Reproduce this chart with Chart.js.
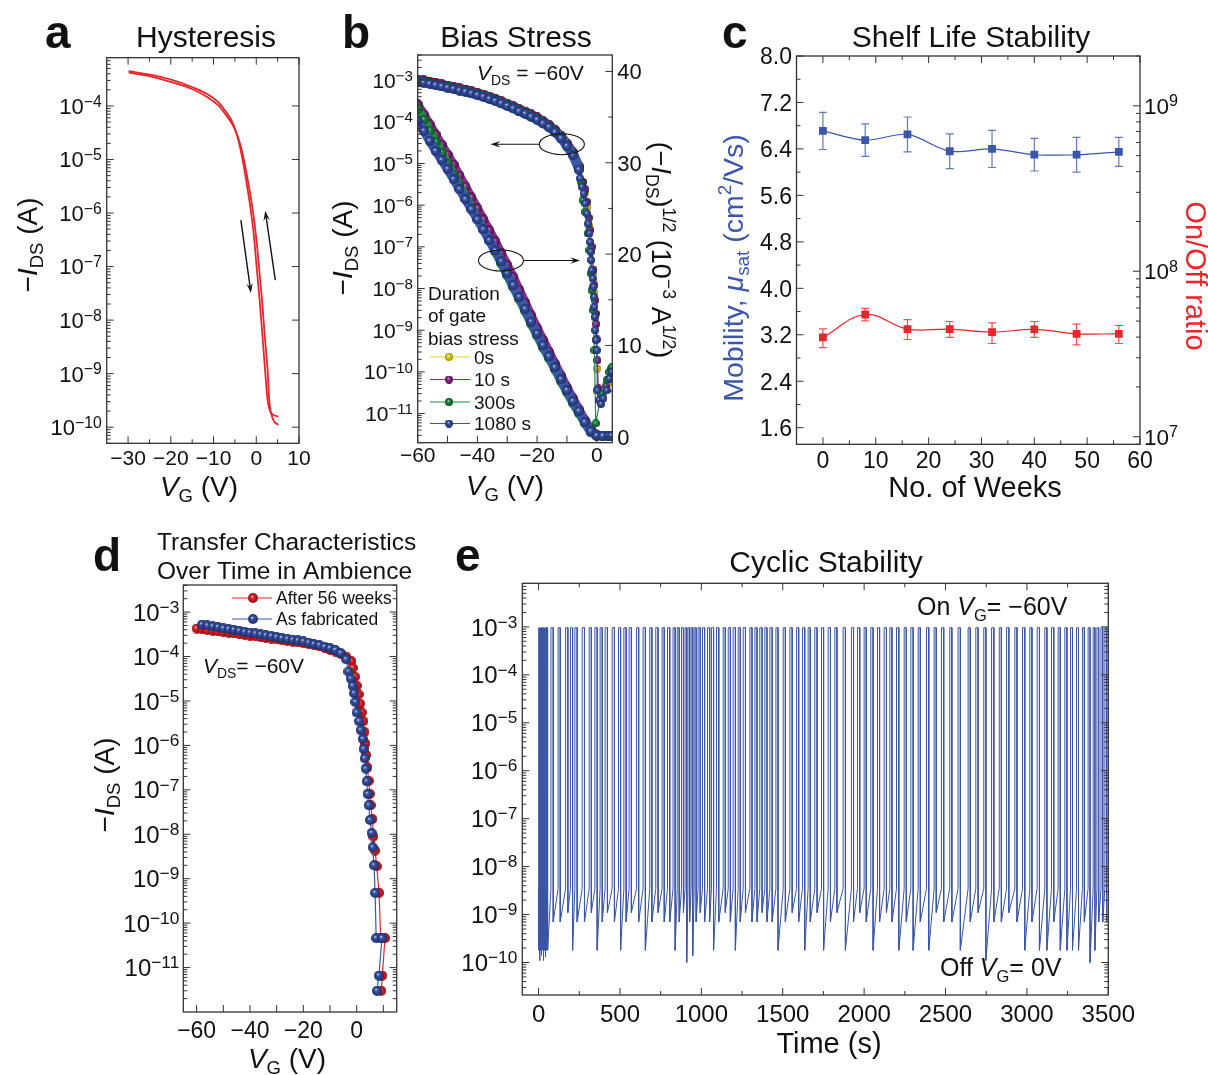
<!DOCTYPE html>
<html lang="en">
<head>
<meta charset="UTF-8">
<title>Transistor stability figure</title>
<script src="https://cdn.jsdelivr.net/npm/chart.js"></script>
<style>
  * { margin: 0; padding: 0; box-sizing: border-box; }
  body { background: #fff; }
  #fig { position: relative; width: 1208px; height: 1075px; overflow: hidden; }
  #fig canvas { position: absolute; left: 0; top: 0; }
</style>
</head>
<body>
<div id="fig">
  <canvas id="chartA" width="1208" height="1075"></canvas>
  <canvas id="chartB" width="1208" height="1075"></canvas>
  <canvas id="chartC" width="1208" height="1075"></canvas>
  <canvas id="chartD" width="1208" height="1075"></canvas>
  <canvas id="chartE" width="1208" height="1075"></canvas>
</div>
<script>
// ---------- a: hysteresis (two sweeps) ----------
const hystVgFwd = [-29.85, -24.6, -19.9, -14.9, -11.4, -9.0, -7.1, -5.5, -4.2, -3.2, -2.26, -1.4, -0.62, 0.08, 0.78, 1.4, 2.0, 2.65, 3.6, 5.15];
const hystIdFwd = [4.47e-4, 3.8e-4, 3.1e-4, 2.24e-4, 1.66e-4, 1.2e-4, 7.8e-5, 4.8e-5, 2.3e-5, 1.0e-5, 3.6e-6, 1.3e-6, 4.2e-7, 1.0e-7, 2.4e-8, 5.7e-9, 1.35e-9, 3.2e-10, 1.8e-10, 1.58e-10];
const hystVgRev = [-29.85, -24.6, -19.9, -14.9, -11.4, -9.0, -7.1, -5.1, -3.7, -2.65, -1.64, -0.78, 0.0, 0.7, 1.4, 2.0, 2.65, 3.04, 3.8, 5.15];
const hystIdRev = [4.2e-4, 3.55e-4, 2.8e-4, 2.05e-4, 1.45e-4, 1.05e-4, 6.8e-5, 3.8e-5, 1.87e-5, 7.9e-6, 2.9e-6, 1.07e-6, 3.4e-7, 8.7e-8, 2.1e-8, 4.9e-9, 1.17e-9, 3.2e-10, 1.48e-10, 1.1e-10];
// sweep direction arrows: [vgFrom, idFrom, vgTo, idTo]
const hystArrows = [[-3.6, 7.4e-7, -1.25, 3.2e-8], [4.45, 5.6e-8, 2.1, 1.1e-6]];

// ---------- b: bias stress ----------
const biasBandVg = [-60, -58, -56, -54, -52, -50, -48, -46, -44, -42, -40, -38, -36, -34, -32, -30, -28, -26, -24, -22, -20, -18, -16, -14, -12, -10, -8, -6];
const logBand0 = [1.0e-3, 9.6e-4, 9.0e-4, 8.4e-4, 7.8e-4, 7.3e-4, 6.8e-4, 6.2e-4, 5.8e-4, 5.3e-4, 4.8e-4, 4.4e-4, 3.9e-4, 3.5e-4, 3.05e-4, 2.65e-4, 2.3e-4, 1.97e-4, 1.72e-4, 1.47e-4, 1.24e-4, 1.0e-4, 8.2e-5, 6.2e-5, 4.5e-5, 2.9e-5, 1.8e-5, 8.3e-6];
const logBand10 = [1.02e-3, 9.8e-4, 9.1e-4, 8.5e-4, 7.9e-4, 7.4e-4, 6.9e-4, 6.3e-4, 5.9e-4, 5.4e-4, 4.9e-4, 4.5e-4, 4.0e-4, 3.55e-4, 3.1e-4, 2.7e-4, 2.35e-4, 2.0e-4, 1.75e-4, 1.5e-4, 1.27e-4, 1.03e-4, 8.4e-5, 6.4e-5, 4.6e-5, 3.0e-5, 1.85e-5, 8.6e-6];
const logBand300 = [9.5e-4, 9.1e-4, 8.5e-4, 7.9e-4, 7.4e-4, 6.9e-4, 6.4e-4, 5.9e-4, 5.5e-4, 5.0e-4, 4.6e-4, 4.2e-4, 3.7e-4, 3.3e-4, 2.9e-4, 2.5e-4, 2.2e-4, 1.86e-4, 1.62e-4, 1.38e-4, 1.17e-4, 9.5e-5, 7.7e-5, 5.9e-5, 4.2e-5, 2.75e-5, 1.67e-5, 7.6e-6];
const logBand1080 = [9.12e-4, 8.71e-4, 8.13e-4, 7.59e-4, 7.08e-4, 6.61e-4, 6.17e-4, 5.62e-4, 5.25e-4, 4.79e-4, 4.37e-4, 3.98e-4, 3.55e-4, 3.16e-4, 2.75e-4, 2.4e-4, 2.09e-4, 1.78e-4, 1.55e-4, 1.32e-4, 1.12e-4, 9.1e-5, 7.4e-5, 5.6e-5, 4.0e-5, 2.6e-5, 1.58e-5, 7.1e-6];
const steepVg0 = [-4.8, -4.0, -3.2, -2.5, -1.9, -1.3, -0.9, -0.5, -0.2, 0.1, 0.5, 2.0, 4.0, 5.0];
const steepI0 = [3.4e-6, 2.0e-6, 9.0e-7, 3.2e-7, 9.0e-8, 2.4e-8, 8.0e-9, 2.0e-9, 6.0e-10, 1.2e-10, 3.5e-11, 3.0e-11, 5.5e-11, 8.5e-11];
const steepVg10 = [-4.6, -3.9, -3.3, -2.7, -2.2, -1.7, -1.1, -0.8, -0.55, -0.35, -0.2, 0.0, 0.2, 0.5, 1.5, 3.0, 4.5, 5.0];
const steepI10 = [3.6e-6, 2.4e-6, 1.2e-6, 5.0e-7, 2.5e-7, 1.0e-7, 2.8e-8, 1.2e-8, 5.2e-9, 2.5e-9, 1.4e-9, 6.0e-10, 1.9e-10, 4.0e-11, 3.0e-11, 4.5e-11, 7.0e-11, 9.0e-11];
const steepVg300 = [-5.3, -4.67, -3.9, -3.0, -2.45, -2.0, -1.7, -1.1, -0.8, -0.35, 1.5, 3.3, 4.2, 4.8, 5.1];
const steepI300 = [3.6e-6, 1.3e-6, 6.9e-7, 2.1e-7, 8.3e-8, 2.3e-8, 9.1e-9, 3.0e-9, 3.3e-10, 5.8e-12, 3.0e-11, 6.3e-11, 1.0e-10, 1.2e-10, 1.3e-10];
const steepVg1080 = [-5.6, -5.0, -4.4, -3.9, -3.3, -2.8, -2.45, -2.2, -2.0, -1.9, -1.7, -1.35, -1.1, -0.9, -0.8, -0.6, -0.55, -0.25, 0.0, 0.2, 0.8, 1.4, 2.2, 3.3, 4.2, 5.0];
const steepI1080 = [4.4e-6, 2.75e-6, 1.9e-6, 1.1e-6, 6.3e-7, 3.6e-7, 2.1e-7, 1.3e-7, 7.6e-8, 4.8e-8, 2.75e-8, 1.74e-8, 1.1e-8, 6.3e-9, 3.6e-9, 2.1e-9, 1.0e-9, 5.8e-10, 3.3e-10, 3.6e-11, 2.1e-11, 1.7e-11, 2.3e-11, 3.6e-11, 6.9e-11, 1.0e-10];
// (-I_DS)^1/2 in 10^-3 A^1/2, right axis
const sqrtVg = [-60, -58, -56, -54, -52, -50, -48, -46, -44, -42, -40, -38, -36, -34, -32, -30, -28, -26, -24, -22, -20, -18, -16, -14, -12, -10, -8, -6, -4, -2, 0, 2, 4, 5];
const sqrt0 = [36.2, 35.1, 34.0, 32.9, 31.8, 30.7, 29.6, 28.4, 27.2, 26.0, 24.8, 23.6, 22.4, 21.2, 19.9, 18.6, 17.3, 15.9, 14.5, 13.1, 11.7, 10.4, 9.1, 7.8, 6.5, 5.2, 4.0, 2.9, 1.7, 0.7, 0.2, 0.1, 0.1, 0.1];
const sqrt10 = [36.4, 35.3, 34.2, 33.1, 32.0, 30.9, 29.8, 28.6, 27.4, 26.2, 25.0, 23.8, 22.6, 21.4, 20.1, 18.8, 17.5, 16.1, 14.7, 13.3, 11.9, 10.6, 9.3, 8.0, 6.7, 5.4, 4.2, 3.0, 1.8, 0.8, 0.2, 0.1, 0.1, 0.1];
const sqrt300 = [35.9, 34.7, 33.5, 32.3, 31.1, 29.9, 28.7, 27.5, 26.3, 25.1, 23.9, 22.7, 21.5, 20.3, 19.0, 17.7, 16.4, 15.1, 13.8, 12.4, 11.1, 9.8, 8.6, 7.4, 6.1, 4.9, 3.7, 2.6, 1.5, 0.5, 0.1, 0.1, 0.1, 0.1];
const sqrt1080 = [34.6, 33.5, 32.4, 31.3, 30.3, 29.3, 28.2, 27.1, 26.0, 24.9, 23.8, 22.7, 21.5, 20.4, 19.2, 17.9, 16.6, 15.3, 14.0, 12.6, 11.3, 10.0, 8.8, 7.6, 6.3, 5.1, 3.9, 2.8, 1.6, 0.6, 0.1, 0.1, 0.1, 0.1];
const biasNames = ['0s', '10 s', '300s', '1080 s'];
// curve markers: [vg, value, axis]; arrows: [vgFrom, vgTo, value, axis]
const biasEllipses = [[-11.7, 2.9e-5, 'y'], [-32.1, 19.3, 'y2']];
const biasArrows = [[-19.2, -35.6, 2.9e-5, 'y'], [-24.5, -5.6, 19.3, 'y2']];

// ---------- c: shelf life ----------
const weeks = [0, 8, 16, 24, 32, 40, 48, 56];
const mobility = [6.71, 6.55, 6.65, 6.36, 6.40, 6.30, 6.30, 6.35];
const mobilityErr = [0.32, 0.28, 0.30, 0.30, 0.32, 0.28, 0.30, 0.25];
const onOff = [3.98e7, 5.48e7, 4.47e7, 4.47e7, 4.29e7, 4.45e7, 4.19e7, 4.19e7];
const onOffHi = [4.49e7, 5.96e7, 5.1e7, 4.97e7, 4.88e7, 4.97e7, 4.79e7, 4.70e7];
const onOffLo = [3.46e7, 5.01e7, 3.87e7, 3.98e7, 3.66e7, 3.98e7, 3.59e7, 3.66e7];

// ---------- d: transfer curves over time ----------
const freshVg = [-58, -56, -54, -52, -50, -48, -46, -44, -42, -40, -38, -36, -34, -32, -30, -28, -26, -24, -22, -20, -18, -16, -14, -12, -10, -8, -6, -4,
  -3.1, -2.25, -1.5, -1.0, -0.5, 0, 0.9, 1.5, 2.25, 2.6, 3.0, 3.4, 3.75, 4.1, 4.5, 5.0, 5.6, 6.0, 6.5, 6.9, 7.3, 9.5, 8.3, 7.6];
const freshId = [5.25e-4, 5.0e-4, 4.8e-4, 4.6e-4, 4.35e-4, 4.15e-4, 4.0e-4, 3.8e-4, 3.6e-4, 3.45e-4, 3.3e-4, 3.15e-4, 3.0e-4, 2.9e-4, 2.75e-4, 2.6e-4, 2.5e-4, 2.4e-4, 2.3e-4, 2.2e-4, 2.05e-4, 1.9e-4, 1.8e-4, 1.65e-4, 1.55e-4, 1.4e-4, 1.2e-4, 8.7e-5,
  4.6e-5, 3.2e-5, 2.2e-5, 1.5e-5, 9.5e-6, 5.5e-6, 3.5e-6, 2.2e-6, 1.4e-6, 8.3e-7, 5.1e-7, 3.0e-7, 1.55e-7, 8.1e-8, 4.5e-8, 2.1e-8, 1.07e-8, 5.1e-9, 2.0e-9, 4.8e-10, 4.6e-11, 4.6e-11, 6.6e-12, 3.0e-12];
const agedVg = [-60, -58, -56, -54, -52, -50, -48, -46, -44, -42, -40, -38, -36, -34, -32, -30, -28, -26, -24, -22, -20, -18, -16, -14, -12, -10, -8, -6, -4, -2,
  -1.5, -0.6, 0, 0.75, 1.25, 1.9, 2.5, 2.9, 3.25, 3.5, 4.0, 4.5, 4.9, 5.25, 5.9, 6.25, 6.9, 7.5, 8.4, 9.0, 10.6, 9.6, 9.2];
const agedId = [4.27e-4, 4.11e-4, 3.96e-4, 3.82e-4, 3.68e-4, 3.55e-4, 3.42e-4, 3.30e-4, 3.18e-4, 3.06e-4, 2.95e-4, 2.84e-4, 2.73e-4, 2.62e-4, 2.52e-4, 2.43e-4, 2.33e-4, 2.24e-4, 2.16e-4, 2.07e-4, 2.0e-4, 1.9e-4, 1.8e-4, 1.7e-4, 1.58e-4, 1.41e-4, 1.29e-4, 1.15e-4, 1.0e-4, 7.9e-5,
  5.5e-5, 3.5e-5, 2.2e-5, 1.4e-5, 8.7e-6, 5.5e-6, 3.5e-6, 2.0e-6, 1.1e-6, 6.1e-7, 3.2e-7, 1.6e-7, 8.1e-8, 4.5e-8, 2.2e-8, 8.9e-9, 4.3e-9, 1.9e-9, 4.8e-10, 4.6e-11, 4.6e-11, 6.6e-12, 3.0e-12];

// ---------- e: cyclic switching ----------
const onLevel = 9.6e-4;
const offShoulder = 3.5e-9;
const pulseOn = [0, 5, 10, 15, 20, 25, 30, 35, 40, 45, 50, 55,
  76, 120, 166, 196, 223, 268, 311, 346, 378, 409, 452, 491, 524, 556, 602, 642, 683, 720, 759, 792, 826,
  852, 878, 900, 918, 937, 956, 980, 1007, 1038, 1062, 1093, 1134, 1165, 1195, 1226, 1257, 1298, 1329, 1359, 1390, 1421, 1458, 1503, 1544, 1585, 1621, 1656, 1697,
  1738, 1779, 1820, 1871, 1922, 1959, 2000, 2041, 2082, 2123, 2158, 2199, 2246, 2287, 2332, 2383, 2430, 2475, 2526, 2577,
  2639, 2686, 2735, 2783, 2830, 2875, 2926, 2973, 3018, 3063, 3110, 3151, 3192, 3233, 3268, 3305, 3341, 3376, 3407, 3430, 3455, 3479];
const pulseOff = [2.5, 7.5, 12.5, 17.5, 22.5, 27.5, 32.5, 37.5, 42.5, 47.5, 52.5, 57.5,
  90, 133, 180, 209, 237, 282, 324, 360, 391, 423, 466, 504, 538, 570, 615, 656, 696, 734, 772, 806, 839,
  864, 890, 910, 928, 947, 968, 993, 1020, 1051, 1075, 1107, 1147, 1178, 1209, 1239, 1271, 1311, 1342, 1373, 1403, 1435, 1471, 1516, 1558, 1598, 1635, 1669, 1711,
  1751, 1793, 1833, 1885, 1935, 1973, 2013, 2055, 2095, 2137, 2171, 2213, 2259, 2301, 2345, 2397, 2443, 2489, 2539, 2591,
  2652, 2700, 2748, 2797, 2843, 2889, 2939, 2987, 3031, 3077, 3123, 3165, 3205, 3246, 3280, 3317, 3353, 3388, 3418, 3441, 3466, 3490];
const offMin = [1.8e-10, 1.1e-10, 1.8e-10, 1.4e-10, 1.8e-10, 1.1e-10, 1.8e-10, 1.8e-10, 1.3e-10, 1.8e-10, 1.8e-10, 1.8e-10,
  7e-10, 7e-10, 1.1e-9, 1.8e-10, 7e-10, 7e-10, 1.1e-9, 1.8e-10, 7e-10, 1.1e-9, 7e-10, 1.8e-10, 7e-10, 1.1e-9, 7e-10, 1.8e-10, 7e-10, 1.1e-9, 7e-10, 7e-10, 1.8e-10,
  7e-10, 1.1e-9, 1.0e-10, 7e-10, 1.4e-10, 7e-10, 1.1e-9, 7e-10, 7e-10, 1.8e-10, 7e-10, 1.1e-9, 7e-10, 1.8e-10, 7e-10, 1.1e-9, 7e-10, 7e-10, 1.1e-9, 7e-10, 7e-10, 1.8e-10, 7e-10, 1.1e-9, 7e-10, 1.8e-10, 7e-10, 1.1e-9,
  1.8e-10, 7e-10, 1.1e-9, 1.8e-10, 7e-10, 1.1e-9, 7e-10, 1.8e-10, 7e-10, 1.1e-9, 7e-10, 1.8e-10, 7e-10, 1.8e-10, 7e-10, 1.8e-10, 1.1e-9, 7e-10, 7e-10, 1.8e-10,
  7e-10, 1.1e-9, 1.1e-10, 7e-10, 7e-10, 1.1e-9, 7e-10, 1.8e-10, 7e-10, 1.8e-10, 1.8e-10, 7e-10, 1.8e-10, 1.8e-10, 1.8e-10, 1.8e-10, 7e-10, 1.0e-10, 1.8e-10, 7e-10, 7e-10, 7e-10];

// ---------- helpers ----------
const FF = "'Liberation Sans', Arial, Helvetica, sans-serif";
const INK = '#333';
const OPP = { bottom: 'top', top: 'bottom', left: 'right', right: 'left' };
const BLUE = '#3b57a8', RED = '#e8262b';

const pts = (xs, ys) => xs.map((x, i) => ({ x, y: ys[i] }));
const decades = (lo, hi) => { const out = []; for (let e = lo; e <= hi; e++) out.push(Math.pow(10, e)); return out; };
const logMinors = (lo, hi) => { const out = []; for (let e = lo; e <= hi; e++) for (let k = 2; k <= 9; k++) out.push(k * Math.pow(10, e)); return out; };
const steps = (a, b, s) => { const out = []; for (let v = a; v <= b + 1e-9; v += s) out.push(+v.toFixed(3)); return out; };
const fmtPow = v => '10^{' + String(Math.round(Math.log10(v))).replace('-', '−') + '}';
const fmtInt = v => String(v).replace('-', '−');
const fmtF1 = v => v.toFixed(1);

// tiny markup: *italic*, _{sub}, ^{sup}
function parse(str) {
  const out = []; let buf = '', it = false, i = 0;
  const push = () => { if (buf) out.push({ t: buf, i: it }); buf = ''; };
  while (i < str.length) {
    const c = str[i];
    if (c === '*') { push(); it = !it; i++; }
    else if ((c === '_' || c === '^') && str[i + 1] === '{') {
      push();
      const j = str.indexOf('}', i);
      out.push({ t: str.slice(i + 2, j), i: false, s: c === '_' ? 'sub' : 'sup' });
      i = j + 1;
    } else { buf += c; i++; }
  }
  push();
  return out;
}

function drawRich(ctx, str, x, y, o) {
  const S = o.size;
  const supK = o.supK || 0.66, supR = o.supR || 0.42;
  ctx.save();
  ctx.translate(x, y);
  if (o.rot) ctx.rotate(o.rot);
  ctx.fillStyle = o.color || '#111';
  ctx.textAlign = 'left';
  ctx.textBaseline = 'alphabetic';
  const segs = parse(str).map(p => {
    const sz = p.s === 'sup' ? S * supK : p.s === 'sub' ? S * 0.66 : S;
    const font = (p.i ? 'italic ' : '') + (o.bold ? 'bold ' : '') + sz.toFixed(1) + 'px ' + FF;
    ctx.font = font;
    const dy = p.s === 'sup' ? -S * supR : p.s === 'sub' ? S * 0.22 : 0;
    return { t: p.t, font, dy, w: ctx.measureText(p.t).width };
  });
  const total = segs.reduce((s, g) => s + g.w, 0);
  let cx = o.align === 'center' ? -total / 2 : o.align === 'right' ? -total : 0;
  segs.forEach(g => { ctx.font = g.font; ctx.fillText(g.t, cx, g.dy); cx += g.w; });
  ctx.restore();
}

function drawAxis(chart, ax) {
  const ctx = chart.ctx, a = chart.chartArea, sc = chart.scales[ax.id];
  const tick = (v, len, side) => {
    const p = sc.getPixelForValue(v);
    if (side === 'bottom' || side === 'top') {
      if (p < a.left - 0.5 || p > a.right + 0.5) return;
      const y0 = side === 'bottom' ? a.bottom : a.top;
      ctx.moveTo(p, y0); ctx.lineTo(p, y0 + (side === 'bottom' ? -len : len));
    } else {
      if (p < a.top - 0.5 || p > a.bottom + 0.5) return;
      const x0 = side === 'left' ? a.left : a.right;
      ctx.moveTo(x0, p); ctx.lineTo(x0 + (side === 'left' ? len : -len), p);
    }
  };
  ctx.save();
  ctx.strokeStyle = INK; ctx.lineWidth = 1;
  ctx.beginPath();
  ax.major.forEach(v => tick(v, 7, ax.side));
  (ax.minor || []).forEach(v => tick(v, 4, ax.side));
  if (ax.mirror) {
    ax.major.forEach(v => tick(v, 7, OPP[ax.side]));
    if (ax.mirrorMinor) (ax.minor || []).forEach(v => tick(v, 4, OPP[ax.side]));
  }
  ctx.stroke();
  const S = ax.size;
  const o = { size: S, supK: 0.72, supR: 0.33 };
  (ax.labels || []).forEach(v => {
    const p = sc.getPixelForValue(v), txt = ax.fmt(v);
    if (ax.side === 'bottom') drawRich(ctx, txt, p, ax.base, Object.assign({ align: 'center' }, o));
    else if (ax.side === 'left') drawRich(ctx, txt, a.left - ax.gap, p + S * 0.36, Object.assign({ align: 'right' }, o));
    else drawRich(ctx, txt, a.right + ax.gap, p + S * 0.36, Object.assign({ align: 'left' }, o));
  });
  ctx.restore();
}

function arrow(ctx, x1, y1, x2, y2) {
  const ang = Math.atan2(y2 - y1, x2 - x1), c = Math.cos(ang), s = Math.sin(ang), L = 10, W = 3.2;
  ctx.beginPath(); ctx.moveTo(x1, y1); ctx.lineTo(x2 - 0.6 * L * c, y2 - 0.6 * L * s); ctx.stroke();
  ctx.beginPath();
  ctx.moveTo(x2, y2);
  ctx.lineTo(x2 - L * c + W * s, y2 - L * s - W * c);
  ctx.lineTo(x2 - 0.6 * L * c, y2 - 0.6 * L * s);
  ctx.lineTo(x2 - L * c - W * s, y2 - L * s + W * c);
  ctx.closePath(); ctx.fill();
}

function ball(color, dark, d) {
  const c = document.createElement('canvas');
  c.width = c.height = d;
  const g = c.getContext('2d'), r = d / 2;
  const grad = g.createRadialGradient(r * 0.8, r * 0.7, 0, r, r, r);
  grad.addColorStop(0, '#f2f2ff');
  grad.addColorStop(0.3, color);
  grad.addColorStop(1, dark);
  g.fillStyle = grad;
  g.beginPath(); g.arc(r, r, r, 0, 2 * Math.PI); g.fill();
  return c;
}

function deco(cfg) {
  return {
    id: 'deco',
    beforeDatasetsDraw(chart) { if (cfg.under) cfg.under(chart); },
    afterDatasetsDraw(chart) {
      const ctx = chart.ctx, a = chart.chartArea;
      cfg.axes.forEach(ax => drawAxis(chart, ax));
      ctx.save();
      ctx.strokeStyle = INK; ctx.lineWidth = 1.3;
      ctx.strokeRect(a.left, a.top, a.right - a.left, a.bottom - a.top);
      ctx.restore();
      if (cfg.over) { ctx.save(); cfg.over(chart); ctx.restore(); }
      cfg.texts.forEach(t => drawRich(ctx, t.s, t.x, t.y, t));
    }
  };
}

const lin = (min, max) => ({ type: 'linear', min, max, display: false, bounds: 'data' });
const logS = (min, max) => ({ type: 'logarithmic', min, max, display: false, bounds: 'data' });

function makeChart(id, pad, scales, datasets, cfg) {
  return new Chart(document.getElementById(id), {
    type: 'line',
    data: { datasets },
    options: {
      responsive: false, animation: false, devicePixelRatio: 1, events: [],
      layout: { padding: pad },
      plugins: { legend: { display: false }, tooltip: { enabled: false } },
      scales
    },
    plugins: [deco(cfg)]
  });
}

// ---------- chart a ----------
makeChart('chartA', { left: 106.7, top: 57.7, right: 909, bottom: 631.7 },
  { x: lin(-35, 10), y: logS(5.0e-11, 7.97e-4) },
  [
    { data: pts(hystVgFwd, hystIdFwd), borderColor: RED, borderWidth: 1.8, pointRadius: 0, cubicInterpolationMode: 'monotone' },
    { data: pts(hystVgRev, hystIdRev), borderColor: RED, borderWidth: 1.8, pointRadius: 0, cubicInterpolationMode: 'monotone' }
  ],
  {
    axes: [
      { id: 'x', side: 'bottom', mirror: true, mirrorMinor: true, major: [-30, -20, -10, 0, 10], minor: [-25, -15, -5, 5], labels: [-30, -20, -10, 0, 10], fmt: fmtInt, size: 21, base: 465 },
      { id: 'y', side: 'left', mirror: true, major: decades(-10, -4), minor: logMinors(-11, -4), labels: decades(-10, -4), fmt: fmtPow, size: 22, gap: 5 }
    ],
    over(chart) {
      const ctx = chart.ctx, xs = chart.scales.x, ys = chart.scales.y;
      ctx.strokeStyle = '#111'; ctx.fillStyle = '#111'; ctx.lineWidth = 1.4;
      hystArrows.forEach(r => arrow(ctx, xs.getPixelForValue(r[0]), ys.getPixelForValue(r[1]), xs.getPixelForValue(r[2]), ys.getPixelForValue(r[3])));
    },
    texts: [
      { s: 'a', x: 45, y: 48, size: 46, bold: true },
      { s: 'Hysteresis', x: 206, y: 47, size: 30, align: 'center' },
      { s: '−*I*_{DS} (A)', x: 37, y: 245, size: 28, align: 'center', rot: -Math.PI / 2 },
      { s: '*V*_{G} (V)', x: 199, y: 496, size: 28, align: 'center' }
    ]
  });

// ---------- chart b ----------
const biasColors = [['#e3d31e', '#9c8f00'], ['#8e2c8e', '#4c0f4c'], ['#1f8f3f', '#0b4d1e'], [BLUE, '#1b2d66']];
const biasTable = [
  [logBand0, steepVg0, steepI0, sqrt0],
  [logBand10, steepVg10, steepI10, sqrt10],
  [logBand300, steepVg300, steepI300, sqrt300],
  [logBand1080, steepVg1080, steepI1080, sqrt1080]
];
const biasBalls = biasColors.map(c => ball(c[0], c[1], 8));
const biasBandBalls = biasColors.map(c => ball(c[0], c[1], 10));
const biasDatasets = [];
[3, 2, 1, 0].forEach(k => {
  const [band, sVg, sI, sq] = biasTable[k];
  const last = biasBandVg.length - 1;
  const col = biasColors[k][0];
  // dense band part of the log curve
  biasDatasets.push({
    data: pts(biasBandVg, band), yAxisID: 'y',
    borderColor: col, borderWidth: 9, borderJoinStyle: 'round', borderCapStyle: 'round', tension: 0,
    pointStyle: biasBandBalls[k], pointRadius: 5
  });
  // steep part of the log curve, joined to the band's last point
  biasDatasets.push({
    data: pts([biasBandVg[last]].concat(sVg), [band[last]].concat(sI)), yAxisID: 'y',
    borderColor: col, borderWidth: 1.2, tension: 0,
    pointStyle: biasBalls[k], pointRadius: 4
  });
  // square-root curve on the right axis
  biasDatasets.push({
    data: pts(sqrtVg, sq), yAxisID: 'y2',
    borderColor: col, borderWidth: 9, borderJoinStyle: 'round', borderCapStyle: 'round', tension: 0,
    pointStyle: biasBandBalls[k], pointRadius: 5
  });
});
makeChart('chartB', { left: 417.7, top: 55, right: 595.7, bottom: 632.3 },
  { x: lin(-60, 5.2), y: logS(2.0e-12, 4.0e-3), y2: lin(-0.65, 41.8) },
  biasDatasets,
  {
    axes: [
      { id: 'x', side: 'bottom', major: steps(-60, 0, 10), labels: [-60, -40, -20, 0], fmt: fmtInt, size: 21, base: 462 },
      { id: 'y', side: 'left', major: decades(-11, -3), minor: logMinors(-12, -3), labels: decades(-11, -3), fmt: fmtPow, size: 21, gap: 4.7 },
      { id: 'y2', side: 'right', major: [0, 10, 20, 30, 40], minor: [5, 15, 25, 35], labels: [0, 10, 20, 30, 40], fmt: fmtInt, size: 22, gap: 5 }
    ],
    over(chart) {
      const ctx = chart.ctx, xs = chart.scales.x;
      ctx.strokeStyle = '#111'; ctx.fillStyle = '#111'; ctx.lineWidth = 1.1;
      biasEllipses.forEach(e => {
        ctx.beginPath();
        ctx.ellipse(xs.getPixelForValue(e[0]), chart.scales[e[2]].getPixelForValue(e[1]), 22.5, 10.5, 0, 0, 2 * Math.PI);
        ctx.stroke();
      });
      biasArrows.forEach(r => {
        const y = chart.scales[r[3]].getPixelForValue(r[2]);
        arrow(ctx, xs.getPixelForValue(r[0]), y, xs.getPixelForValue(r[1]), y);
      });
      // legend
      const ly = [357, 379.5, 402, 423.5];
      biasNames.forEach((n, k) => {
        ctx.strokeStyle = biasColors[k][0]; ctx.lineWidth = 1.2;
        ctx.beginPath(); ctx.moveTo(430, ly[k]); ctx.lineTo(470, ly[k]); ctx.stroke();
        ctx.drawImage(biasBalls[k], 449 - 4, ly[k] - 4);
        drawRich(ctx, n, 474, ly[k] + 6.8, { size: 19 });
      });
    },
    texts: [
      { s: 'b', x: 342, y: 48, size: 46, bold: true },
      { s: 'Bias Stress', x: 516, y: 47, size: 30, align: 'center' },
      { s: '*V*_{DS} = −60V', x: 477, y: 80, size: 21 },
      { s: '−*I*_{DS} (A)', x: 352, y: 248, size: 28, align: 'center', rot: -Math.PI / 2 },
      { s: '*V*_{G} (V)', x: 505, y: 495, size: 28, align: 'center' },
      { s: '(−*I*_{DS})^{1/2} (10^{−3} A^{1/2})', x: 652, y: 250, size: 27, align: 'center', rot: Math.PI / 2 },
      { s: 'Duration', x: 428, y: 300, size: 19 },
      { s: 'of gate', x: 428, y: 322, size: 19 },
      { s: 'bias stress', x: 428, y: 345, size: 19 }
    ]
  });

// ---------- chart c ----------
makeChart('chartC', { left: 796.5, top: 56, right: 68, bottom: 630.7 },
  { x: lin(-5, 60), y: lin(1.314, 8.0), y2: logS(9.0e6, 2.0e9) },
  [
    { data: pts(weeks, mobility), yAxisID: 'y', borderColor: BLUE, borderWidth: 1.2, tension: 0.3,
      pointStyle: 'rect', pointRadius: 5.5, pointBackgroundColor: BLUE, pointBorderColor: BLUE, pointBorderWidth: 0 },
    { data: pts(weeks, onOff), yAxisID: 'y2', borderColor: RED, borderWidth: 1.2, tension: 0.4,
      pointStyle: 'rect', pointRadius: 5.5, pointBackgroundColor: RED, pointBorderColor: RED, pointBorderWidth: 0 }
  ],
  {
    axes: [
      { id: 'x', side: 'bottom', mirror: true, mirrorMinor: true, major: steps(0, 60, 10), minor: steps(5, 55, 10), labels: steps(0, 60, 10), fmt: fmtInt, size: 23, base: 468 },
      { id: 'y', side: 'left', major: steps(1.6, 8.0, 0.8), minor: steps(2.0, 7.6, 0.8), labels: steps(1.6, 8.0, 0.8), fmt: fmtF1, size: 23, gap: 4.5 },
      { id: 'y2', side: 'right', major: decades(7, 9), minor: logMinors(6, 9), labels: decades(7, 9), fmt: fmtPow, size: 22.5, gap: 4 }
    ],
    under(chart) {
      const ctx = chart.ctx, xs = chart.scales.x;
      const bar = (sc, w, lo, hi, color) => {
        const x = xs.getPixelForValue(w), y1 = sc.getPixelForValue(lo), y2 = sc.getPixelForValue(hi);
        ctx.strokeStyle = color; ctx.lineWidth = 1.2;
        ctx.beginPath();
        ctx.moveTo(x, y1); ctx.lineTo(x, y2);
        ctx.moveTo(x - 4, y1); ctx.lineTo(x + 4, y1);
        ctx.moveTo(x - 4, y2); ctx.lineTo(x + 4, y2);
        ctx.stroke();
      };
      ctx.save();
      weeks.forEach((w, i) => {
        bar(chart.scales.y, w, mobility[i] - mobilityErr[i], mobility[i] + mobilityErr[i], 'rgba(59,87,168,0.8)');
        bar(chart.scales.y2, w, onOffLo[i], onOffHi[i], 'rgba(232,38,43,0.8)');
      });
      ctx.restore();
    },
    texts: [
      { s: 'c', x: 722, y: 48, size: 46, bold: true },
      { s: 'Shelf Life Stability', x: 971, y: 47, size: 30, align: 'center' },
      { s: 'No. of Weeks', x: 975, y: 497, size: 29, align: 'center' },
      { s: 'Mobility, *μ*_{sat} (cm^{2}/Vs)', x: 743, y: 268, size: 28.5, align: 'center', rot: -Math.PI / 2, color: BLUE },
      { s: 'On/Off ratio', x: 1186, y: 276, size: 29, align: 'center', rot: Math.PI / 2, color: RED }
    ]
  });

// ---------- chart d ----------
const redBall = ball(RED, '#8f0c10', 10), blueBall = ball(BLUE, '#1b2d66', 10);
makeChart('chartD', { left: 183.3, top: 585, right: 811.3, bottom: 63 },
  { x: lin(-65, 15), y: logS(1.0e-12, 4.07e-3) },
  [
    { data: pts(freshVg, freshId), borderColor: BLUE, borderWidth: 1.2, tension: 0, pointStyle: blueBall, pointRadius: 5 },
    { data: pts(agedVg, agedId), borderColor: RED, borderWidth: 1.2, tension: 0, pointStyle: redBall, pointRadius: 5 }
  ],
  {
    axes: [
      { id: 'x', side: 'bottom', major: steps(-60, 10, 10), labels: [-60, -40, -20, 0], fmt: fmtInt, size: 23, base: 1038 },
      { id: 'y', side: 'left', mirror: true, mirrorMinor: true, major: decades(-11, -3), minor: logMinors(-12, -3), labels: decades(-11, -3), fmt: fmtPow, size: 24, gap: 4 }
    ],
    over(chart) {
      const ctx = chart.ctx;
      [[RED, redBall, 'After 56 weeks', 598], [BLUE, blueBall, 'As fabricated', 619]].forEach(e => {
        ctx.strokeStyle = e[0]; ctx.lineWidth = 1.2;
        ctx.beginPath(); ctx.moveTo(232, e[3]); ctx.lineTo(272, e[3]); ctx.stroke();
        ctx.drawImage(e[1], 253 - 5, e[3] - 5);
        drawRich(ctx, e[2], 276, e[3] + 6.2, { size: 17.5 });
      });
    },
    texts: [
      { s: 'd', x: 93, y: 571, size: 46, bold: true },
      { s: 'Transfer Characteristics', x: 157, y: 550, size: 24.5 },
      { s: 'Over Time in Ambience', x: 157, y: 579, size: 24.5 },
      { s: '*V*_{DS}= −60V', x: 203, y: 673, size: 21 },
      { s: '−*I*_{DS} (A)', x: 114, y: 785, size: 28, align: 'center', rot: -Math.PI / 2 },
      { s: '*V*_{G} (V)', x: 287, y: 1068, size: 28, align: 'center' }
    ]
  });

// ---------- chart e ----------
const cyclePts = [];
pulseOn.forEach((t, i) => {
  cyclePts.push({ x: t, y: offShoulder }, { x: t, y: onLevel }, { x: pulseOff[i], y: onLevel }, { x: pulseOff[i], y: offMin[i] });
});
makeChart('chartE', { left: 522.3, top: 583.3, right: 99.7, bottom: 80 },
  { x: lin(-100, 3500), y: logS(2.1e-11, 8.1e-3) },
  [{ data: cyclePts, borderColor: '#3a55a6', borderWidth: 1, tension: 0, pointRadius: 0 }],
  {
    axes: [
      { id: 'x', side: 'bottom', mirror: true, mirrorMinor: true, major: steps(0, 3500, 500), minor: steps(250, 3250, 500), labels: steps(0, 3500, 500), fmt: fmtInt, size: 24, base: 1022 },
      { id: 'y', side: 'left', mirror: true, mirrorMinor: true, major: decades(-10, -3), minor: logMinors(-11, -3), labels: decades(-10, -3), fmt: fmtPow, size: 24, gap: 5 }
    ],
    texts: [
      { s: 'e', x: 455, y: 571, size: 46, bold: true },
      { s: 'Cyclic Stability', x: 826, y: 572, size: 30, align: 'center' },
      { s: 'Time (s)', x: 829, y: 1053, size: 29, align: 'center' },
      { s: 'On *V*_{G}= −60V', x: 917, y: 615, size: 25 },
      { s: 'Off *V*_{G}= 0V', x: 940, y: 976, size: 25 }
    ]
  });
</script>
</body>
</html>
